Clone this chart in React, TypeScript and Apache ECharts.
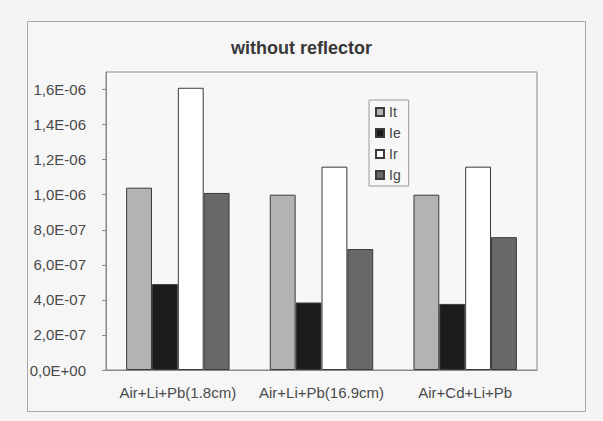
import React, { useEffect, useRef } from "react";
import * as echarts from "echarts";

const categories = ["Air+Li+Pb(1.8cm)", "Air+Li+Pb(16.9cm)", "Air+Cd+Li+Pb"];
const seriesNames = ["It", "Ie", "Ir", "Ig"];
const itValues = [1.04e-6, 1.0e-6, 1.0e-6];
const ieValues = [4.9e-7, 3.85e-7, 3.77e-7];
const irValues = [1.61e-6, 1.16e-6, 1.16e-6];
const igValues = [1.01e-6, 6.9e-7, 7.58e-7];
const tickValues = [0, 2e-7, 4e-7, 6e-7, 8e-7, 1.0e-6, 1.2e-6, 1.4e-6, 1.6e-6];
const tickLabels = [
  "0,0E+00",
  "2,0E-07",
  "4,0E-07",
  "6,0E-07",
  "8,0E-07",
  "1,0E-06",
  "1,2E-06",
  "1,4E-06",
  "1,6E-06",
];
const seriesColors = ["#b3b3b3", "#1c1c1c", "#ffffff", "#686868"];

export default function App() {
  const ref = useRef<HTMLDivElement>(null);

  useEffect(() => {
    if (!ref.current) return;
    const chart = echarts.init(ref.current, null, { renderer: "svg" });
    const values = [itValues, ieValues, irValues, igValues];
    const labelFor = (v: number) => {
      let best = 0;
      let bestD = Infinity;
      tickValues.forEach((t, i) => {
        const d = Math.abs(t - v);
        if (d < bestD) {
          bestD = d;
          best = i;
        }
      });
      return tickLabels[best];
    };
    chart.setOption({
      animation: false,
      backgroundColor: "#f4f4f4",
      textStyle: { fontFamily: "'Liberation Sans', Arial, sans-serif" },
      graphic: [
        {
          type: "rect",
          shape: { x: 27.5, y: 21.5, width: 558, height: 390 },
          style: { fill: "#f6f6f6", stroke: "#a8a8a8", lineWidth: 1 },
          z: -10,
        },
      ],
      title: {
        text: "without reflector",
        left: "center",
        top: 34,
        textStyle: {
          fontSize: 18,
          fontWeight: "bold",
          color: "#383838",
          fontFamily: "'Liberation Sans', Arial, sans-serif",
        },
      },
      legend: {
        orient: "vertical",
        left: 369,
        top: 100,
        width: 36,
        padding: [5, 8, 4, 6],
        itemWidth: 8,
        itemHeight: 8,
        itemGap: 7,
        borderColor: "#9a9a9a",
        borderWidth: 1,
        backgroundColor: "#f7f7f7",
        icon: "rect",
        data: seriesNames,
        textStyle: {
          fontSize: 14,
          color: "#444",
          padding: [0, 0, 0, 0],
          fontFamily: "'Liberation Sans', Arial, sans-serif",
        },
      },
      grid: {
        left: 106,
        right: 66,
        top: 72,
        bottom: 51,
        show: true,
        borderColor: "#8a8a8a",
        borderWidth: 1,
        backgroundColor: "#f7f7f7",
      },
      xAxis: {
        type: "category",
        data: categories,
        axisLine: { lineStyle: { color: "#8a8a8a" } },
        axisTick: { show: false },
        axisLabel: {
          fontSize: 15,
          color: "#4a4a4a",
          margin: 15,
          interval: 0,
        },
      },
      yAxis: {
        type: "value",
        min: 0,
        max: 1.7e-6,
        splitLine: { show: false },
        axisLine: { show: true, lineStyle: { color: "#8a8a8a" } },
        axisTick: {
          show: true,
          length: 4,
          customValues: tickValues,
          lineStyle: { color: "#8a8a8a" },
        },
        axisLabel: {
          customValues: tickValues,
          fontSize: 15,
          color: "#4a4a4a",
          margin: 20,
          formatter: (v: number) => labelFor(v),
        },
      },
      series: seriesNames.map((name, i) => ({
        name,
        type: "bar",
        data: values[i],
        barGap: "0%",
        barCategoryGap: "28%",
        itemStyle: {
          color: seriesColors[i],
          borderColor: "#3a3a3a",
          borderWidth: 1,
        },
      })),
    });
    return () => chart.dispose();
  }, []);

  return (
    <div
      ref={ref}
      style={{ position: "fixed", left: 0, top: 0, width: 603, height: 421 }}
    />
  );
}
